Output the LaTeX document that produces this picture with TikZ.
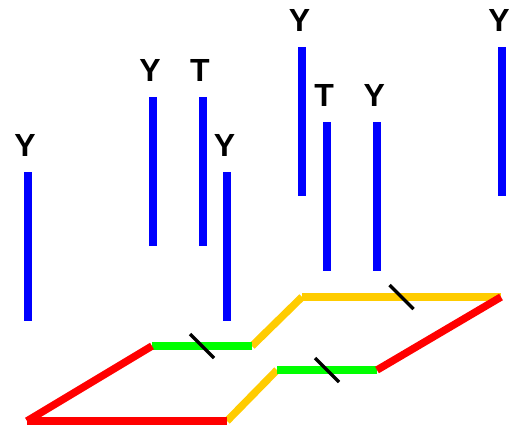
\documentclass[tikz,border=0pt]{standalone}
\usepackage{fontspec}
\setmainfont{Liberation Sans}
\usetikzlibrary{calc}
\definecolor{jaune}{RGB}{255,204,0}
\definecolor{vert}{RGB}{0,255,0}
\begin{document}
\begin{tikzpicture}[x=1pt,y=-1pt,
barre/.style={blue,line width=8pt},
arete/.style={line width=7.5pt},
trait/.style={black,line width=3.5pt},
lettre/.style={anchor=base,inner sep=0pt,
font=\fontsize{32}{32}\selectfont\bfseries}]

\useasboundingbox (0,0) rectangle (513,429);

% Barres verticales
\foreach \x/\y/\t/\n in {
27.5/172/Y/1,152.5/97/Y/2,202.5/97/T/3,227/172/Y/4,
302/47/Y/5,326.7/122/T/6,376.7/122/Y/7,501.5/47/Y/8}
{
\coordinate (h\n) at (\x,\y);
\coordinate (b\n) at (\x,\y+148.5);
\draw[barre] (h\n) -- (b\n);
\node[lettre] (l\n) at (\x-2.5,\y-16) {\t};
}

% Sommets du cadre
\coordinate (A) at (27,421);
\coordinate (B) at (227,421);
\coordinate (C) at (277,370);
\coordinate (D) at (377,370);
\coordinate (E) at (501,297);
\coordinate (F) at (302,297);
\coordinate (G) at (252,346);
\coordinate (H) at (152,346);

% Cadre
\foreach \p/\q/\c in {
B/C/jaune,E/F/jaune,F/G/jaune,
G/H/vert,C/D/vert,
H/A/red,A/B/red,D/E/red}
{
\draw[arete,\c] (\p) -- (\q);
}

% Marques
\coordinate (m1) at ($(G)!0.5!(H)$);
\coordinate (m2) at ($(E)!0.5!(F)$);
\coordinate (m3) at ($(C)!0.5!(D)$);
\foreach \m in {m1,m2,m3}
{
\draw[trait] ([shift={(-12,-12)}]\m) -- ([shift={(12,12)}]\m);
}

\end{tikzpicture}
\end{document}
